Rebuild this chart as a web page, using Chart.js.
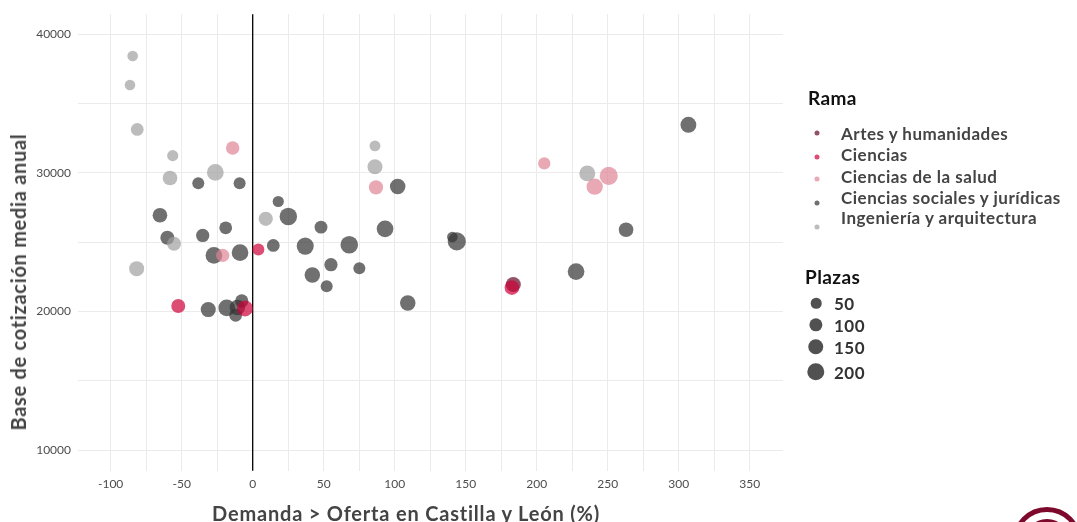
<!DOCTYPE html>
<html lang="es">
<head>
<meta charset="utf-8">
<title>Demanda y base de cotización</title>
<script src="https://cdn.jsdelivr.net/npm/chart.js@4.4.1/dist/chart.umd.min.js"></script>
<style>
  html, body { margin: 0; padding: 0; background: #fff; }
  #wrap { position: relative; width: 1077px; height: 522px; overflow: hidden; font-family: Lato, "Open Sans", sans-serif; }
  #grafico { position: absolute; left: 0; top: 0; }
  .eje-y { position: absolute; left: 18px; top: 282px; transform: translate(-50%, -50%) rotate(-90deg); white-space: nowrap; font-weight: 700; font-size: 20px; letter-spacing: 0.7px; color: #444; }
  .eje-x { position: absolute; left: 406px; top: 513px; transform: translate(-50%, -50%); white-space: nowrap; font-weight: 700; font-size: 20px; letter-spacing: 0.8px; color: #444; }
  .ley-titulo { position: absolute; font-weight: 700; font-size: 19px; letter-spacing: 0.4px; color: #111; transform: translateY(-50%); }
  .ley-texto { position: absolute; font-weight: 700; font-size: 17px; letter-spacing: 0.5px; color: #444; white-space: nowrap; transform: translateY(-50%); }
  .ley-punto { position: absolute; border-radius: 50%; transform: translate(-50%, -50%); }
  .logo { position: absolute; border-radius: 50%; border: 5px solid #7d0a2c; box-sizing: border-box; }
</style>
</head>
<body>
<div id="wrap">
  <canvas id="grafico" width="1077" height="522"></canvas>
  <div class="eje-y">Base de cotización media anual</div>
  <div class="eje-x">Demanda &gt; Oferta en Castilla y León (%)</div>
  <div id="leyenda"></div>
  <div class="logo" style="left:1012px;top:507px;width:70px;height:70px;"></div>
  <div class="logo" style="left:1024px;top:519px;width:46px;height:46px;border-width:4px;"></div>
</div>
<script>
// ramas de conocimiento
const ramas = ["Artes y humanidades", "Ciencias", "Ciencias de la salud",
               "Ciencias sociales y jurídicas", "Ingeniería y arquitectura"];

// una entrada por titulación: rama (índice), demanda sobre oferta (%), base media anual, plazas
const rama = [
  4, 4, 4, 4, 4, 4, 4, 4, 4, 4, 4, 4,
  2, 2, 2, 2, 2, 2,
  1, 1, 1, 1,
  0,
  3, 3, 3, 3, 3, 3, 3, 3, 3, 3, 3, 3, 3, 3, 3, 3,
  3, 3, 3, 3, 3, 3, 3, 3, 3, 3, 3, 3, 3, 3, 3
];
const demanda = [
  -84.5, -86.4, -81.3, -56.3, -58.2, -26.3, -55.4, -81.7, 9.2, 86.1, 86.1, 235.6,
  -14.1, -21.1, 86.8, 205.3, 240.8, 250.7,
  -52.4, 4.0, -5.4, 182.5,
  183.5,
  -38.3, -9.2, -65.3, -60.1, -35.2, -19.0, -27.3, -8.9, 14.5, -31.3, -18.3, -12.0, -7.7, -10.8, 18.0, 25.1,
  48.1, 93.2, 37.0, 68.0, 55.1, 75.1, 42.0, 52.1, 109.2, 102.1, 140.6, 143.7, 306.8, 262.9, 227.7
];
const base = [
  38440, 36350, 33140, 31250, 29640, 30040, 24890, 23090, 26690, 31960, 30450, 29970,
  31800, 24050, 28960, 30690, 29010, 29790,
  20400, 24480, 20220, 21720,
  21950,
  29250, 29250, 26950, 25320, 25490, 26040, 24050, 24250, 24770, 20140, 20260, 19730, 20760, 20290, 27940, 26860,
  26090, 25970, 24720, 24820, 23380, 23120, 22630, 21820, 20620, 29020, 25370, 25060, 33480, 25900, 22880
];
const plazas = [
  50, 50, 90, 60, 130, 180, 115, 140, 120, 55, 140, 160,
  105, 100, 120, 80, 170, 220,
  115, 75, 160, 130,
  140,
  75, 75, 130, 115, 100, 90, 180, 180, 90, 140, 180, 90, 100, 150, 60, 200,
  90, 180, 190, 205, 100, 75, 150, 75, 150, 150, 50, 220, 160, 130, 180
];

// marcas de los ejes y tamaños de la leyenda
const ticksX = [-100, -50, 0, 50, 100, 150, 200, 250, 300, 350];
const ticksY = [10000, 20000, 30000, 40000];
const plazasLeyenda = [50, 100, 150, 200];

const coloresRama = [
  "rgba(100, 10, 38, 0.7)",
  "rgba(205, 0, 55, 0.7)",
  "rgba(222, 133, 149, 0.7)",
  "rgba(51, 51, 51, 0.7)",
  "rgba(160, 160, 160, 0.7)"
];
// orden de dibujo: ciencias encima, sociales debajo
const ordenRama = [1, 0, 2, 4, 3];

// área del círculo proporcional a las plazas
const radio = p => Math.sqrt(12 + 0.32 * p);

// líneas intermedias entre marcas principales
const conIntermedias = marcas => {
  const paso = marcas[1] - marcas[0];
  const out = [];
  marcas.forEach(v => { out.push(v - paso / 2); out.push(v); });
  out.push(marcas[marcas.length - 1] + paso / 2);
  return out;
};

const datasets = ramas.map((nombre, i) => ({
  label: nombre,
  order: ordenRama[i],
  backgroundColor: coloresRama[i],
  borderWidth: 0,
  hoverBorderWidth: 0,
  hoverRadius: 0,
  data: rama.map((r, k) => r === i ? { x: demanda[k], y: base[k], r: radio(plazas[k]) } : null)
            .filter(d => d !== null)
}));

// línea vertical en demanda = oferta, por encima de la rejilla
const lineaCero = {
  id: "lineaCero",
  beforeDatasetsDraw(chart) {
    const { ctx, chartArea, scales } = chart;
    const x = scales.x.getPixelForValue(0);
    ctx.save();
    ctx.strokeStyle = "#000";
    ctx.lineWidth = 1.3;
    ctx.beginPath();
    ctx.moveTo(x, chartArea.top);
    ctx.lineTo(x, chartArea.bottom);
    ctx.stroke();
    ctx.restore();
  }
};

const fuenteTicks = { family: "Lato, 'Open Sans', sans-serif", size: 12 };

new Chart(document.getElementById("grafico"), {
  type: "bubble",
  data: { datasets },
  plugins: [lineaCero],
  options: {
    responsive: false,
    animation: false,
    events: [],
    layout: { padding: { top: 13, right: 294, left: 0, bottom: 0 } },
    plugins: { legend: { display: false }, tooltip: { enabled: false } },
    scales: {
      x: {
        type: "linear",
        min: -123,
        max: 373.4,
        afterBuildTicks: s => { s.ticks = conIntermedias(ticksX).filter(v => v >= s.min && v <= s.max).map(v => ({ value: v })); },
        afterFit: s => { s.height = 51.3; },
        border: { display: false },
        grid: { drawTicks: false, color: "#ebebeb", lineWidth: 1 },
        ticks: {
          padding: 6,
          color: "#4d4d4d",
          font: fuenteTicks,
          autoSkip: false,
          maxRotation: 0,
          callback: v => ticksX.includes(v) ? String(v) : ""
        }
      },
      y: {
        type: "linear",
        min: 8510,
        max: 41460,
        afterBuildTicks: s => { s.ticks = conIntermedias(ticksY).filter(v => v >= s.min && v <= s.max).map(v => ({ value: v })); },
        afterFit: s => { s.width = 78; },
        border: { display: false },
        grid: { drawTicks: false, color: "#ebebeb", lineWidth: 1 },
        ticks: {
          padding: 7,
          color: "#4d4d4d",
          font: fuenteTicks,
          autoSkip: false,
          callback: v => ticksY.includes(v) ? String(v) : ""
        }
      }
    }
  }
});

// leyenda a la derecha
const ley = document.getElementById("leyenda");
const add = (cls, css, texto) => {
  const d = document.createElement("div");
  d.className = cls;
  d.style.cssText = css;
  if (texto) d.textContent = texto;
  ley.appendChild(d);
};

add("ley-titulo", "left:808px;top:97px;", "Rama");
const yPunto = [133, 157, 179, 203, 227];
const yTexto = [133, 154, 176, 197, 217];
ramas.forEach((nombre, i) => {
  add("ley-punto", `left:817px;top:${yPunto[i]}px;width:5px;height:5px;background:${coloresRama[i]};`);
  add("ley-texto", `left:841px;top:${yTexto[i]}px;`, nombre);
});

add("ley-titulo", "left:805px;top:276px;", "Plazas");
const yTam = [303, 325, 347, 372];
plazasLeyenda.forEach((p, i) => {
  const d = 2 * radio(p);
  add("ley-punto", `left:816px;top:${yTam[i]}px;width:${d}px;height:${d}px;background:rgba(51,51,51,0.85);`);
  add("ley-texto", `left:834px;top:${yTam[i]}px;color:#333;`, String(p));
});
</script>
</body>
</html>
